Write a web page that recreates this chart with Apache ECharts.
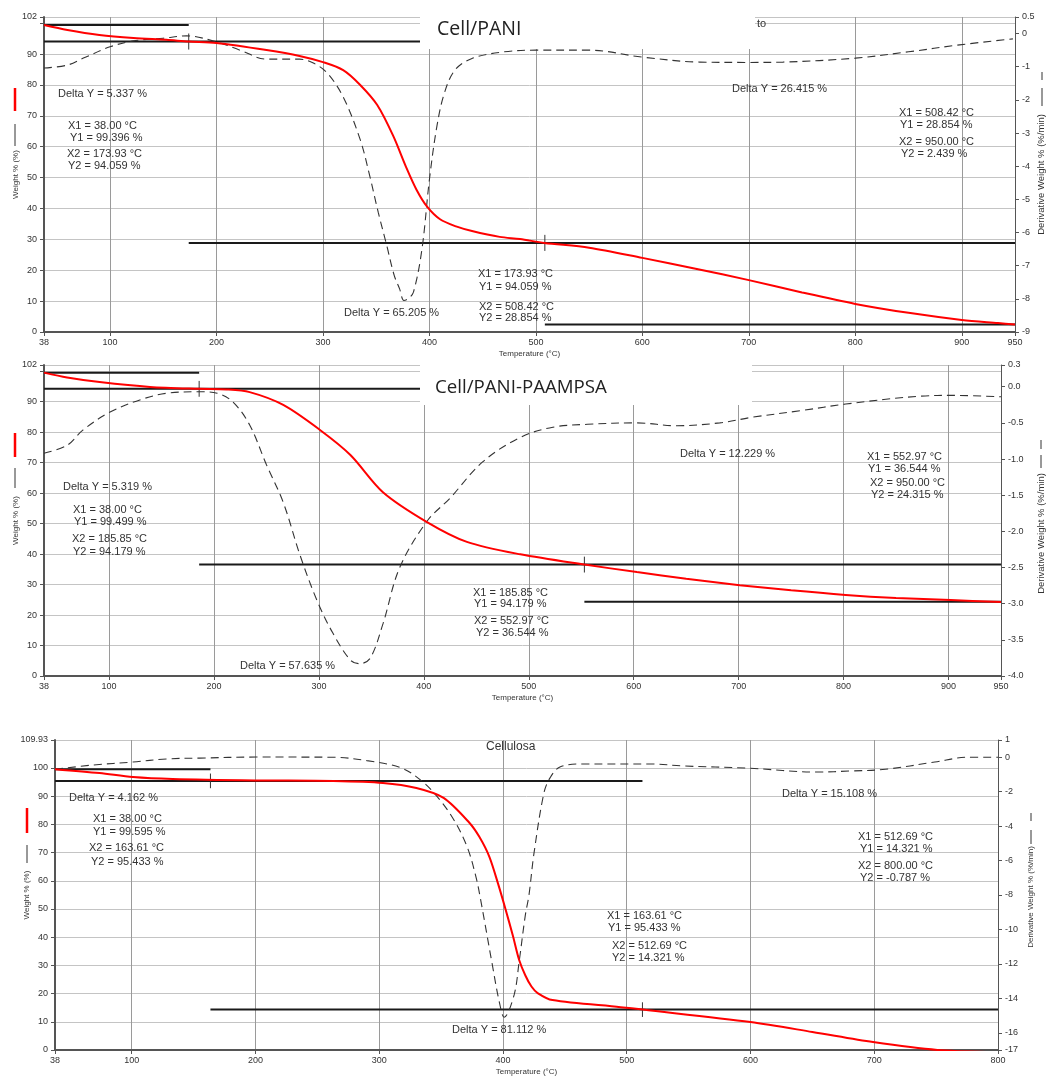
<!DOCTYPE html>
<html>
<head>
<meta charset="utf-8">
<title>TGA / DTG</title>
<script src="https://cdn.jsdelivr.net/npm/echarts@6/dist/echarts.min.js"></script>
<style>
  html, body { margin: 0; padding: 0; background: #fff; }
  #chart { width: 1048px; height: 1077px; }
</style>
</head>
<body>
<div id="chart"></div>
<script>
  // ---- data ----
  // Cell/PANI
  const tgaT1 = [38, 60, 90, 122, 153, 174, 200, 247, 278, 300, 319, 335, 351, 366, 378, 388, 398, 410, 425, 440, 466, 485, 508, 550, 600, 650, 700, 750, 800, 850, 900, 934, 950];
  const tgaW1 = [99.4, 97.8, 96.2, 95.2, 94.6, 94.06, 93.6, 91.3, 89.4, 87.4, 84.8, 80.0, 73.5, 63.5, 53.5, 46.0, 40.5, 36.5, 34.2, 32.7, 30.8, 30.1, 28.85, 27.3, 24.0, 20.5, 16.8, 12.8, 9.1, 6.2, 3.9, 2.9, 2.44];
  const dtgT1 = [38, 60, 75, 100, 122, 150, 172, 200, 222, 247, 278, 291, 304, 319, 335, 344, 352, 360, 367, 372, 376, 380, 385, 393, 400, 407, 414, 424, 440, 470, 500, 550, 600, 654, 700, 732, 800, 850, 898, 948];
  const dtgD1 = [-1.04, -0.95, -0.74, -0.4, -0.22, -0.14, -0.07, -0.25, -0.5, -0.77, -0.77, -0.89, -1.19, -1.91, -3.2, -4.3, -5.4, -6.4, -7.3, -7.7, -8.05, -8.0, -7.8, -6.5, -4.4, -2.8, -1.8, -1.1, -0.75, -0.55, -0.5, -0.5, -0.71, -0.86, -0.87, -0.86, -0.74, -0.55, -0.34, -0.16];
  // step lines [x1, x2, y] and cursor marks [x, y]
  const steps1 = [[38, 173.93, 99.396], [38, 400, 94.059], [173.93, 950, 28.854], [508.42, 950, 2.439]];
  const cursors1 = [[173.93, 94.059], [508.42, 28.854]];

  // Cell/PANI-PAAMPSA
  const tgaT2 = [38, 60, 91, 139, 186, 212, 234, 266, 301, 330, 361, 403, 441, 492, 553, 603, 650, 701, 750, 802, 850, 902, 950];
  const tgaW2 = [99.5, 97.9, 96.4, 94.8, 94.18, 94.0, 93.1, 88.9, 80.7, 72.5, 60.3, 50.5, 44.0, 39.9, 36.54, 34.1, 31.9, 29.8, 28.1, 26.6, 25.6, 24.9, 24.3];
  const dtgT2 = [38, 60, 75, 101, 130, 155, 187, 203, 218, 234, 250, 266, 282, 298, 313, 330, 339, 349, 361, 377, 403, 425, 456, 492, 523, 556, 603, 641, 682, 714, 760, 802, 874, 905, 950];
  const dtgD2 = [-0.92, -0.81, -0.6, -0.35, -0.18, -0.09, -0.07, -0.09, -0.21, -0.53, -1.08, -1.6, -2.33, -2.95, -3.4, -3.78, -3.83, -3.75, -3.28, -2.5, -1.86, -1.54, -1.04, -0.7, -0.56, -0.52, -0.5, -0.54, -0.5, -0.42, -0.33, -0.24, -0.13, -0.12, -0.14];
  const steps2 = [[38, 185.85, 99.499], [38, 400, 94.179], [185.85, 950, 36.544], [552.97, 950, 24.315]];
  const cursors2 = [[185.85, 94.179], [552.97, 36.544]];

  // Cellulosa
  const tgaT3 = [38, 74, 101, 133, 200, 263, 303, 330, 352, 373, 381, 389, 396, 402, 408, 413, 418, 423, 428, 440, 495, 513, 600, 650, 699, 751, 800];
  const tgaW3 = [99.6, 98.2, 96.8, 96.1, 95.6, 95.4, 94.7, 92.9, 89.4, 80.5, 75.5, 68.5, 59.0, 50.0, 40.5, 32.0, 26.5, 22.5, 20.2, 17.7, 15.2, 14.32, 9.9, 6.4, 2.8, 0, -0.79];
  const dtgT3 = [38, 69, 101, 128, 155, 201, 263, 290, 317, 333, 347, 360, 371, 378, 382, 391, 397, 401, 409, 413, 418, 421, 425, 433, 438, 446, 466, 519, 546, 597, 654, 681, 709, 749, 776, 800];
  const dtgD3 = [-0.7, -0.45, -0.28, -0.1, -0.05, 0.01, 0.0, -0.2, -0.6, -1.3, -2.3, -3.6, -5.2, -6.9, -8.3, -11.9, -14.2, -15.1, -13.8, -11.9, -9.2, -8.0, -5.6, -2.1, -1.2, -0.57, -0.39, -0.39, -0.51, -0.63, -0.86, -0.8, -0.7, -0.28, 0, 0];
  const steps3 = [[38, 163.61, 99.595], [38, 512.69, 95.433], [163.61, 800, 14.321]];
  const cursors3 = [[163.61, 95.433], [512.69, 14.321]];

  // tick labels
  const xTicks950 = [38, 100, 200, 300, 400, 500, 600, 700, 800, 900, 950];
  const xTicks800 = [38, 100, 200, 300, 400, 500, 600, 700, 800];
  const dtgTicks3 = [1, 0, -2, -4, -6, -8, -10, -12, -14, -16, -17];

  // ---- layout ----
  const FONT = '"Liberation Sans", Arial, sans-serif';
  const TXT = '#333';
  const zip = (xs, ys) => xs.map((x, i) => [x, ys[i]]);

  const panels = [
    {
      grid: { left: 44, top: 17, width: 971, height: 315 },
      xMax: 950, xTicks: xTicks950, leftGap: 24,
      wMax: 102, dtgAxis: { min: -9, max: 0.5, interval: 1 }, rightGap: 21, rightFont: 9.5, rightPad: [0, 0, 0, 0],
      tga: zip(tgaT1, tgaW1), dtg: zip(dtgT1, dtgD1), steps: steps1, cursors: cursors1,
    },
    {
      grid: { left: 44, top: 365, width: 957, height: 311 },
      xMax: 950, xTicks: xTicks950, leftGap: 24,
      wMax: 102, dtgAxis: { min: -4, max: 0.3, interval: 0.5, fmt: (v) => v.toFixed(1) }, rightGap: 35, rightFont: 9.5, rightPad: [0, 26, 0, 0],
      tga: zip(tgaT2, tgaW2), dtg: zip(dtgT2, dtgD2), steps: steps2, cursors: cursors2,
    },
    {
      grid: { left: 55, top: 740, width: 943, height: 310 },
      xMax: 800, xTicks: xTicks800, leftGap: 24,
      wMax: 109.93, dtgAxis: { min: -17, max: 1, custom: dtgTicks3 }, rightGap: 29, rightFont: 8, rightPad: [0, 4, 0, 0],
      tga: zip(tgaT3, tgaW3), dtg: zip(dtgT3, dtgD3), steps: steps3, cursors: cursors3,
    },
  ];

  const grid = [], xAxis = [], yAxis = [], series = [];

  panels.forEach((p, i) => {
    grid.push(Object.assign({ containLabel: false, outerBoundsMode: 'none' }, p.grid));

    xAxis.push({
      type: 'value', gridIndex: i, min: 38, max: p.xMax,
      name: 'Temperature (°C)', nameLocation: 'middle', nameGap: 18, nameMoveOverlap: false,
      nameTextStyle: { fontSize: 8, color: TXT, fontFamily: FONT },
      axisLine: { show: true, lineStyle: { color: '#555', width: 2 } },
      axisTick: { show: true, customValues: p.xTicks, length: 4, lineStyle: { color: '#555' } },
      axisLabel: { customValues: p.xTicks, fontSize: 9, color: TXT, fontFamily: FONT, margin: 6 },
      splitLine: { show: true, lineStyle: { color: '#9a9a9a', width: 1 } },
    });

    yAxis.push({
      type: 'value', gridIndex: i, position: 'left', min: 0, max: p.wMax, interval: 10,
      name: 'Weight % (%)', nameLocation: 'middle', nameRotate: 90, nameGap: p.leftGap, nameMoveOverlap: false,
      nameTextStyle: { fontSize: 8, color: TXT, fontFamily: FONT },
      axisLine: { show: true, lineStyle: { color: '#555', width: 2 } },
      axisTick: { show: true, length: 4, lineStyle: { color: '#555' } },
      axisLabel: {
        fontSize: 9, color: TXT, fontFamily: FONT, margin: 7,
        formatter: (v) => (v === 100 && p.wMax < 105 ? '' : String(v)),
      },
      splitLine: { show: true, lineStyle: { color: '#c4c4c4', width: 1 } },
    });

    const d = p.dtgAxis;
    const right = {
      type: 'value', gridIndex: i, position: 'right', min: d.min, max: d.max,
      name: 'Derivative Weight % (%/min)', nameLocation: 'middle', nameRotate: 90,
      nameGap: p.rightGap, nameMoveOverlap: false,
      nameTextStyle: { fontSize: p.rightFont, color: TXT, fontFamily: FONT, padding: p.rightPad },
      axisLine: { show: true, lineStyle: { color: '#555', width: 1 } },
      axisTick: { show: true, length: 4, lineStyle: { color: '#555' } },
      axisLabel: { fontSize: 9, color: TXT, fontFamily: FONT, margin: 7 },
      splitLine: { show: false },
    };
    if (d.interval) right.interval = d.interval;
    if (d.fmt) right.axisLabel.formatter = d.fmt;
    if (d.custom) {
      right.axisTick.customValues = d.custom;
      right.axisLabel.customValues = d.custom;
    }
    yAxis.push(right);

    // step annotation lines
    p.steps.forEach((s) => {
      series.push({
        type: 'line', xAxisIndex: i, yAxisIndex: 2 * i, silent: true,
        data: [[s[0], s[2]], [s[1], s[2]]],
        symbol: 'none', lineStyle: { color: '#1a1a1a', width: 2 }, z: 2,
      });
    });
    // small cursor marks
    p.cursors.forEach((c) => {
      series.push({
        type: 'line', xAxisIndex: i, yAxisIndex: 2 * i, silent: true,
        data: [[c[0], c[1] + 2.6], [c[0], c[1] - 2.6]],
        symbol: 'none', lineStyle: { color: '#333', width: 1 }, z: 2,
      });
    });

    series.push({
      name: 'DTG', type: 'line', xAxisIndex: i, yAxisIndex: 2 * i + 1,
      data: p.dtg, smooth: 0.35, symbol: 'none',
      lineStyle: { color: '#333', width: 1.1, type: [8, 5] }, z: 3,
    });
    series.push({
      name: 'TGA', type: 'line', xAxisIndex: i, yAxisIndex: 2 * i,
      data: p.tga, smooth: 0.3, symbol: 'none',
      lineStyle: { color: '#ff0000', width: 2 }, z: 4,
    });
  });

  // annotation text [x, y, text]
  const notes = [
    [58, 94, 'Delta Y = 5.337 %'],
    [68, 126, 'X1 = 38.00 °C'], [70, 138, 'Y1 = 99.396 %'], [67, 154, 'X2 = 173.93 °C'], [68, 166, 'Y2 = 94.059 %'],
    [732, 89, 'Delta Y = 26.415 %'],
    [899, 113, 'X1 = 508.42 °C'], [900, 125, 'Y1 = 28.854 %'], [899, 142, 'X2 = 950.00 °C'], [901, 154, 'Y2 = 2.439 %'],
    [478, 274, 'X1 = 173.93 °C'], [479, 287, 'Y1 = 94.059 %'], [479, 307, 'X2 = 508.42 °C'], [479, 318, 'Y2 = 28.854 %'],
    [344, 313, 'Delta Y = 65.205 %'],
    [757, 24, 'to'],

    [63, 487, 'Delta Y = 5.319 %'],
    [73, 510, 'X1 = 38.00 °C'], [74, 522, 'Y1 = 99.499 %'], [72, 539, 'X2 = 185.85 °C'], [73, 552, 'Y2 = 94.179 %'],
    [680, 454, 'Delta Y = 12.229 %'],
    [867, 457, 'X1 = 552.97 °C'], [868, 469, 'Y1 = 36.544 %'], [870, 483, 'X2 = 950.00 °C'], [871, 495, 'Y2 = 24.315 %'],
    [473, 593, 'X1 = 185.85 °C'], [474, 604, 'Y1 = 94.179 %'], [474, 621, 'X2 = 552.97 °C'], [476, 633, 'Y2 = 36.544 %'],
    [240, 666, 'Delta Y = 57.635 %'],

    [69, 798, 'Delta Y = 4.162 %'],
    [93, 819, 'X1 = 38.00 °C'], [93, 832, 'Y1 = 99.595 %'], [89, 848, 'X2 = 163.61 °C'], [91, 862, 'Y2 = 95.433 %'],
    [782, 794, 'Delta Y = 15.108 %'],
    [858, 837, 'X1 = 512.69 °C'], [860, 849, 'Y1 = 14.321 %'], [858, 866, 'X2 = 800.00 °C'], [860, 878, 'Y2 = -0.787 %'],
    [607, 916, 'X1 = 163.61 °C'], [608, 928, 'Y1 = 95.433 %'], [612, 946, 'X2 = 512.69 °C'], [612, 958, 'Y2 = 14.321 %'],
    [452, 1030, 'Delta Y = 81.112 %'],
  ];

  const graphic = [
    // white title boxes
    { type: 'rect', shape: { x: 420, y: 0, width: 335, height: 49 }, style: { fill: '#fff' }, z: 100 },
    { type: 'rect', shape: { x: 420, y: 358, width: 332, height: 47 }, style: { fill: '#fff' }, z: 100 },
    { type: 'text', x: 437, y: 29, z: 101,
      style: { text: 'Cell/PANI', font: '19.5px "Open Sans", "Noto Sans", sans-serif', fill: '#222', verticalAlign: 'middle' } },
    { type: 'text', x: 435, y: 388, z: 101,
      style: { text: 'Cell/PANI-PAAMPSA', font: '18.7px "Open Sans", "Noto Sans", sans-serif', fill: '#222', verticalAlign: 'middle' } },
    { type: 'text', x: 486, y: 747, z: 101,
      style: { text: 'Cellulosa', font: '12px ' + FONT, fill: TXT, verticalAlign: 'middle' } },
  ];

  notes.forEach((n) => {
    graphic.push({
      type: 'text', x: n[0], y: n[1], z: 101, silent: true,
      style: { text: n[2], font: '11px ' + FONT, fill: TXT, verticalAlign: 'middle' },
    });
  });

  // line-style samples next to the axis titles
  const vline = (x, y1, y2, color, w) => ({
    type: 'line', z: 101, silent: true,
    shape: { x1: x, y1: y1, x2: x, y2: y2 },
    style: { stroke: color, lineWidth: w },
  });
  graphic.push(
    vline(15, 88, 111, '#ff0000', 2.5), vline(15, 124, 146, '#333', 1),
    vline(15, 433, 457, '#ff0000', 2.5), vline(15, 468, 488, '#333', 1),
    vline(27, 808, 833, '#ff0000', 2.5), vline(27, 845, 863, '#333', 1),
    vline(1042, 72, 80, '#333', 1), vline(1042, 88, 106, '#333', 1),
    vline(1041, 440, 449, '#333', 1), vline(1041, 455, 468, '#333', 1),
    vline(1031, 813, 821, '#333', 1), vline(1031, 830, 844, '#333', 1)
  );

  const chart = echarts.init(document.getElementById('chart'));
  chart.setOption({
    animation: false,
    backgroundColor: '#fff',
    grid,
    xAxis,
    yAxis,
    series,
    graphic,
  });

  window.addEventListener('resize', () => chart.resize());
</script>
</body>
</html>
